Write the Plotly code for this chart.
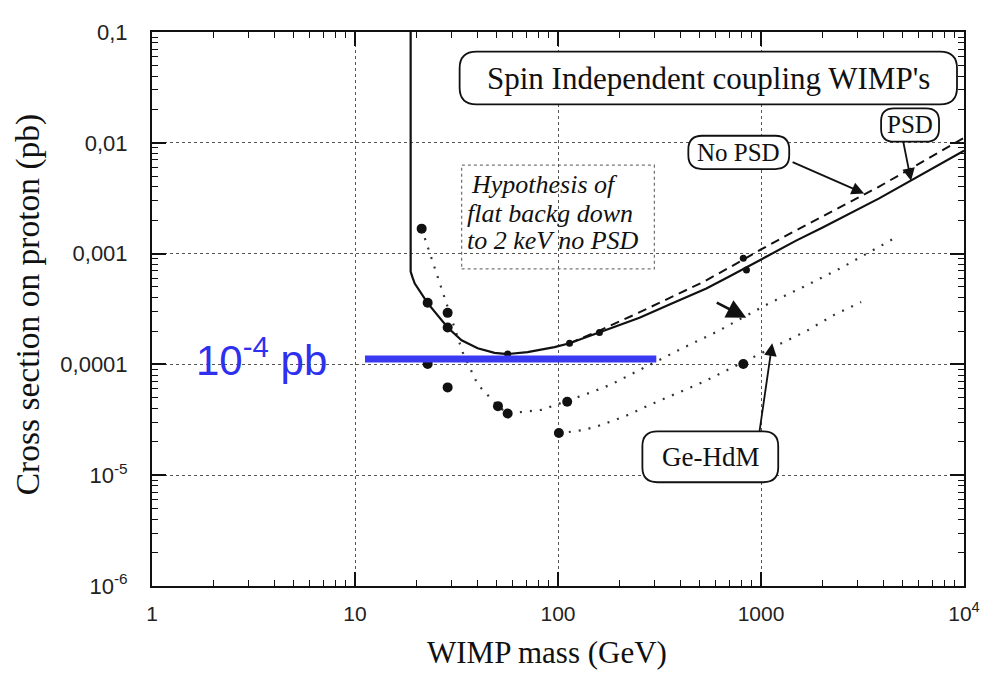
import plotly.graph_objects as go

# ---------------- data ----------------
# solid curve (PSD)
solid_mass = [18.8, 18.8, 19.2, 19.7, 22.8, 28.6, 33.5, 40.2, 48.7, 56.5, 70.8, 96.1, 114,
              160, 252, 366, 538, 698, 1014, 1489, 2001, 3819, 10000]
solid_xsec = [0.1, 6.9e-4, 6.1e-4, 5.37e-4, 3.57e-4, 2.15e-4, 1.65e-4, 1.40e-4, 1.27e-4, 1.24e-4,
              1.29e-4, 1.43e-4, 1.55e-4, 1.94e-4, 2.64e-4, 3.57e-4, 4.85e-4, 6.2e-4, 8.93e-4,
              1.31e-3, 1.71e-3, 3.15e-3, 8.5e-3]

# dashed curve (No PSD)
dashed_mass = [114, 160, 243, 354, 520, 700, 1000, 1450, 2000, 3800, 10000]
dashed_xsec = [1.55e-4, 2.02e-4, 2.86e-4, 3.95e-4, 5.55e-4, 7.5e-4, 1.09e-3, 1.58e-3, 2.15e-3,
               4.0e-3, 1.11e-2]

# dotted curve (flat background hypothesis)
hyp_mass = [21.3, 26.1, 31.7, 33.9, 40.2, 50.6, 56.5, 68.4, 83, 151, 183, 410, 609, 1099,
            1634, 2483, 3604, 4424]
hyp_xsec = [1.68e-3, 5.48e-4, 1.82e-4, 1.29e-4, 6.6e-5, 4.2e-5, 3.6e-5, 3.73e-5, 3.89e-5,
            5.73e-5, 6.6e-5, 1.4e-4, 1.98e-4, 3.57e-4, 5.05e-4, 7.43e-4, 1.09e-3, 1.34e-3]

# dotted curve (Ge-HdM)
gehdm_mass = [101, 130.6, 156, 212, 282, 419, 514, 1259, 1690, 2292, 3113]
gehdm_xsec = [2.39e-5, 2.54e-5, 2.76e-5, 3.38e-5, 4.3e-5, 5.85e-5, 6.88e-5, 1.55e-4, 2.02e-4,
              2.80e-4, 3.65e-4]

# large black points
big_mass = [21.3, 22.8, 28.6, 28.6, 22.8, 28.6, 50.6, 56.5, 111, 101, 818]
big_xsec = [1.68e-3, 3.6e-4, 2.92e-4, 2.15e-4, 1.01e-4, 6.2e-5, 4.2e-5, 3.6e-5, 4.6e-5,
            2.4e-5, 1.01e-4]

# small black points
small_mass = [56.5, 114, 160, 848, 818]
small_xsec = [1.24e-4, 1.55e-4, 1.94e-4, 7.1e-4, 9.1e-4]

# blue 10^-4 pb line
blue_mass = [11.2, 305]
blue_xsec = [1.12e-4, 1.12e-4]

x_tickvals = [1, 10, 100, 1000, 10000]
x_ticktext = ["1", "10", "100", "1000", "10<sup>4</sup>"]
y_tickvals = [1e-6, 1e-5, 1e-4, 1e-3, 1e-2, 1e-1]
y_ticktext = ["10<sup>-6</sup>", "10<sup>-5</sup>", "0,0001", "0,001", "0,01", "0,1"]

# ---------------- layout helpers ----------------
OFF = 8                      # page body margin: the figure starts 8 px in
W, H = 992 - OFF, 675 - OFF
# plot area in window pixels (as measured on the reference)
RL, RT, RR, RB = 152, 20, 965, 586
PL, PT = RL - OFF, RT - OFF
PW, PH = RR - RL, RB - RT


def px(xp):
    return (xp - RL) / PW


def py(yp):
    return 1 - (yp - RT) / PH


def rounded_path(x0, y0, x1, y1, r):
    X0, X1 = px(x0), px(x1)
    Y0, Y1 = py(y0), py(y1)
    rx, ry = r / PW, r / PH
    return (f"M {X0 + rx},{Y0} L {X1 - rx},{Y0} Q {X1},{Y0} {X1},{Y0 - ry} "
            f"L {X1},{Y1 + ry} Q {X1},{Y1} {X1 - rx},{Y1} "
            f"L {X0 + rx},{Y1} Q {X0},{Y1} {X0},{Y1 + ry} "
            f"L {X0},{Y0 - ry} Q {X0},{Y0} {X0 + rx},{Y0} Z")


fig = go.Figure()

dot_style = dict(color="#333333", width=2.2, dash="2px,8px")
fig.add_trace(go.Scatter(x=hyp_mass, y=hyp_xsec, mode="lines", line=dot_style,
                         showlegend=False, hoverinfo="skip"))
fig.add_trace(go.Scatter(x=gehdm_mass, y=gehdm_xsec, mode="lines", line=dot_style,
                         showlegend=False, hoverinfo="skip"))
fig.add_trace(go.Scatter(x=dashed_mass, y=dashed_xsec, mode="lines",
                         line=dict(color="#111111", width=2, dash="9px,6px"),
                         showlegend=False, hoverinfo="skip"))
fig.add_trace(go.Scatter(x=solid_mass, y=solid_xsec, mode="lines",
                         line=dict(color="#111111", width=2.2),
                         showlegend=False, hoverinfo="skip"))
fig.add_trace(go.Scatter(x=big_mass, y=big_xsec, mode="markers",
                         marker=dict(color="#111111", size=10, symbol="circle"),
                         showlegend=False, hoverinfo="skip"))
fig.add_trace(go.Scatter(x=small_mass, y=small_xsec, mode="markers",
                         marker=dict(color="#111111", size=7, symbol="circle"),
                         showlegend=False, hoverinfo="skip"))
fig.add_trace(go.Scatter(x=blue_mass, y=blue_xsec, mode="lines",
                         line=dict(color="#3a3af2", width=7),
                         showlegend=False, hoverinfo="skip"))

shapes = []
# dotted box around hypothesis text
shapes.append(dict(type="rect", xref="paper", yref="paper",
                   x0=px(462), x1=px(655), y0=py(262), y1=py(156),
                   line=dict(color="#777777", width=1.3, dash="dot"),
                   fillcolor="white", layer="between"))
for (bx0, by0, bx1, by1, r) in [(460, 40, 958, 94, 17), (689, 126, 790, 160, 14),
                                (882, 98, 940, 132, 13), (643, 428, 779, 480, 15)]:
    shapes.append(dict(type="path", xref="paper", yref="paper",
                       path=rounded_path(bx0, by0, bx1, by1, r),
                       line=dict(color="#111111", width=1.8),
                       fillcolor="white", layer="above"))

serif = "Liberation Serif"
ann = []


def text_ann(t, xp, yp, size, italic=False, angle=0, color="#111111", family=serif):
    ann.append(dict(text=f"<i>{t}</i>" if italic else t, xref="paper", yref="paper",
                    x=px(xp), y=py(yp), xanchor="center", yanchor="middle",
                    showarrow=False, textangle=angle,
                    font=dict(family=family, size=size, color=color)))


def arrow_ann(tipx, tipy, tailx, taily, head=2, size=1.4, width=1.8):
    ann.append(dict(text="", xref="paper", yref="paper", x=px(tipx), y=py(tipy),
                    ax=tailx - tipx, ay=taily - tipy, showarrow=True,
                    arrowhead=head, arrowsize=size, arrowwidth=width,
                    arrowcolor="#111111", standoff=0, startstandoff=0))


text_ann("Spin Independent coupling WIMP's", 709, 68, 31)
text_ann("No PSD", 739, 143, 25)
text_ann("PSD", 911, 115, 25)
text_ann("Ge-HdM", 711, 454, 27)
text_ann("Hypothesis of", 545, 176, 26, italic=True)
text_ann("flat backg down", 550, 205, 26, italic=True)
text_ann("to 2 keV no PSD", 553, 233, 26, italic=True)
text_ann("WIMP mass (GeV)", 547, 654, 31)
text_ann("Cross section on proton (pb)", 28, 298, 33.5, angle=-90)
text_ann("10<sup>-4</sup> pb", 262, 352, 42, color="#2f2ff0", family="Liberation Sans")

arrow_ann(865, 185, 792, 153)
arrow_ann(912, 172, 904, 132)
arrow_ann(773, 338, 760, 428)
arrow_ann(747, 312, 716, 296, head=2, size=1.5, width=2.6)

axis_common = dict(
    type="log", tickmode="array", ticks="inside", ticklen=14, tickwidth=1.5,
    tickcolor="#111111", mirror="allticks", showline=True, linecolor="#111111",
    linewidth=2, showgrid=True, gridcolor="#555555", griddash="dot", gridwidth=1.3,
    zeroline=False,
    minor=dict(ticks="inside", ticklen=6, tickwidth=1, tickcolor="#111111",
               dtick="D1", showgrid=False),
)

fig.update_layout(
    width=W, height=H, autosize=False,
    margin=dict(l=PL, r=W - PL - PW, t=PT, b=H - PT - PH),
    paper_bgcolor="white", plot_bgcolor="white",
    xaxis=dict(axis_common, range=[0, 4], tickvals=x_tickvals, ticktext=x_ticktext,
               tickfont=dict(family="Liberation Sans", size=21, color="#222222"),
               ticklabelstandoff=8),
    yaxis=dict(axis_common, range=[-6, -1], tickvals=y_tickvals, ticktext=y_ticktext,
               tickfont=dict(family="Liberation Sans", size=22, color="#222222"),
               ticklabelstandoff=18),
    shapes=shapes, annotations=ann, showlegend=False,
)

fig.write_html("out.html")
